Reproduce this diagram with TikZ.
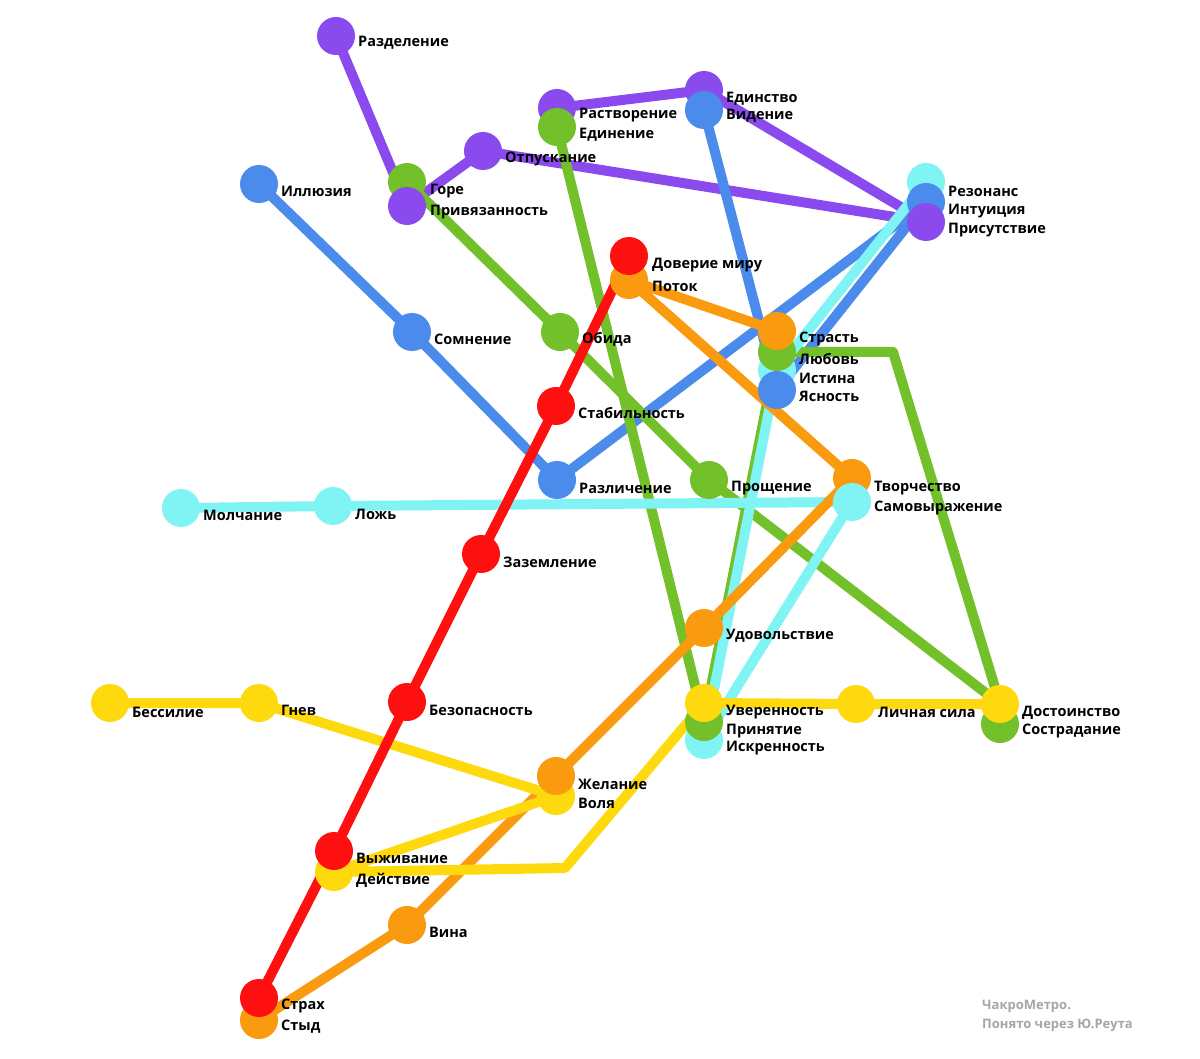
\documentclass[tikz,border=0pt]{standalone}
\usepackage{fontspec}
\setmainfont{Open Sans}
\definecolor{cpur}{HTML}{8A4AEE}
\definecolor{cgrn}{HTML}{73C12A}
\definecolor{cblu}{HTML}{4A8BEB}
\definecolor{ccya}{HTML}{80F3F5}
\definecolor{cred}{HTML}{FF1010}
\definecolor{cora}{HTML}{FA9A0E}
\definecolor{cyel}{HTML}{FDD90E}
\begin{document}
\begin{tikzpicture}[x=1pt,y=-1pt,
  ln/.style={line width=10pt,line join=round,line cap=round},
  st/.style={circle,fill=#1,minimum size=38pt,inner sep=0pt},
  lb/.style={anchor=west,font=\fontsize{14.5}{16}\selectfont\bfseries,inner sep=0pt},
  foot/.style={anchor=west,font=\fontsize{13}{15}\selectfont\bfseries,text=black!35,inner sep=0pt}]
\useasboundingbox (0,0) rectangle (1200,1059);
\fill[white] (0,0) rectangle (1200,1059);
% coordinates
\coordinate (raz) at (336,36);
\coordinate (gor) at (407,182); \coordinate (priv) at (407,206);
\coordinate (otp) at (483,151);
\coordinate (rast) at (557,108); \coordinate (edin) at (557,127);
\coordinate (eds) at (704,90); \coordinate (vid) at (704,110);
\coordinate (rez) at (926,182); \coordinate (int) at (926,202); \coordinate (pris) at (926,222);
\coordinate (ill) at (259,184);
\coordinate (dov) at (629,256); \coordinate (potok) at (629,280);
\coordinate (som) at (412,332);
\coordinate (obi) at (560,332);
\coordinate (str) at (777,331); \coordinate (lub) at (777,352); \coordinate (ist) at (777,370); \coordinate (yas) at (777,390);
\coordinate (stab) at (556,406);
\coordinate (razl) at (557,480);
\coordinate (pros) at (709,480);
\coordinate (tvor) at (852,478); \coordinate (samo) at (852,502);
\coordinate (molch) at (181,508); \coordinate (lozh) at (333,506);
\coordinate (zaz) at (481,554);
\coordinate (udov) at (704,628);
\coordinate (bess) at (110,703); \coordinate (gnev) at (259,703);
\coordinate (bez) at (407,702);
\coordinate (uver) at (704,703); \coordinate (prin) at (704,722); \coordinate (iskr) at (704,740);
\coordinate (lich) at (856,704);
\coordinate (dost) at (1000,704); \coordinate (sostr) at (1000,724);
\coordinate (zhel) at (556,776); \coordinate (vol) at (556,796);
\coordinate (vyzh) at (334,851); \coordinate (deis) at (334,872);
\coordinate (vina) at (407,925);
\coordinate (strah) at (259,998); \coordinate (styd) at (259,1020);
\coordinate (gbend) at (893,352);
\coordinate (ybend) at (565,868);
% lines
\draw[ln,cpur] (raz) -- (priv) -- (otp) -- (pris) -- (eds) -- (rast);
\draw[ln,cblu] (ill) -- (som) -- (razl) -- (int);
\draw[ln,cblu] (vid) -- (yas) -- (int);
\draw[ln,cgrn] (edin) -- (prin);
\draw[ln,cgrn] (gor) -- (obi) -- (pros) -- (dost);
\draw[ln,cgrn] (prin) -- (lub) -- (gbend) -- (dost);
\draw[ln,ccya] (molch) -- (lozh) -- (samo) -- (iskr) -- (ist) -- (rez);
\draw[ln,cora] (str) -- (potok) -- (tvor) -- (udov) -- (zhel) -- (vina) -- (styd);
\draw[ln,cyel] (bess) -- (gnev) -- (vol) -- (deis) -- (ybend) -- (uver) -- (lich) -- (dost);
\draw[ln,cred] (dov) -- (stab) -- (zaz) -- (bez) -- (vyzh) -- (strah);
% stations
\node[st=cpur] at (raz) {};
\node[st=cgrn] at (gor) {}; \node[st=cpur] at (priv) {};
\node[st=cpur] at (otp) {};
\node[st=cpur] at (rast) {}; \node[st=cgrn] at (edin) {};
\node[st=cpur] at (eds) {}; \node[st=cblu] at (vid) {};
\node[st=ccya] at (rez) {}; \node[st=cblu] at (int) {}; \node[st=cpur] at (pris) {};
\node[st=cblu] at (ill) {};
\node[st=cora] at (potok) {}; \node[st=cred] at (dov) {};
\node[st=cblu] at (som) {};
\node[st=cgrn] at (obi) {};
\node[st=ccya] at (ist) {}; \node[st=cgrn] at (lub) {}; \node[st=cblu] at (yas) {}; \node[st=cora] at (str) {};
\node[st=cred] at (stab) {};
\node[st=cblu] at (razl) {};
\node[st=cgrn] at (pros) {};
\node[st=cora] at (tvor) {}; \node[st=ccya] at (samo) {};
\node[st=ccya] at (molch) {}; \node[st=ccya] at (lozh) {};
\node[st=cred] at (zaz) {};
\node[st=cora] at (udov) {};
\node[st=cyel] at (bess) {}; \node[st=cyel] at (gnev) {};
\node[st=cred] at (bez) {};
\node[st=ccya] at (iskr) {}; \node[st=cgrn] at (prin) {}; \node[st=cyel] at (uver) {};
\node[st=cyel] at (lich) {};
\node[st=cgrn] at (sostr) {}; \node[st=cyel] at (dost) {};
\node[st=cyel] at (vol) {}; \node[st=cora] at (zhel) {};
\node[st=cyel] at (deis) {}; \node[st=cred] at (vyzh) {};
\node[st=cora] at (vina) {};
\node[st=cora] at (styd) {}; \node[st=cred] at (strah) {};
% labels
\node[lb] (l1) at (358,43) {Разделение};
\node[lb] (l2) at (430,191) {Горе};
\node[lb] (l3) at (430,212) {Привязанность};
\node[lb] (l4) at (505,159) {Отпускание};
\node[lb] (l5) at (579,115) {Растворение};
\node[lb] (l6) at (579,135) {Единение};
\node[lb] (l7) at (726,99) {Единство};
\node[lb] (l8) at (726,116) {Видение};
\node[lb] (l9) at (948,191) {Резонанс};
\node[lb] (l10) at (948,211) {Интуиция};
\node[lb] (l11) at (948,230) {Присутствие};
\node[lb] (l12) at (281,191) {Иллюзия};
\node[lb] (l13) at (652,265) {Доверие миру};
\node[lb] (l14) at (652,286) {Поток};
\node[lb] (l15) at (434,339) {Сомнение};
\node[lb] (l16) at (582,339) {Обида};
\node[lb] (l17) at (799,339) {Страсть};
\node[lb] (l18) at (799,359) {Любовь};
\node[lb] (l19) at (799,378) {Истина};
\node[lb] (l20) at (799,396) {Ясность};
\node[lb] (l21) at (578,413) {Стабильность};
\node[lb] (l22) at (579,488) {Различение};
\node[lb] (l23) at (731,488) {Прощение};
\node[lb] (l24) at (874,488) {Творчество};
\node[lb] (l25) at (874,508) {Самовыражение};
\node[lb] (l26) at (203,515) {Молчание};
\node[lb] (l27) at (355,514) {Ложь};
\node[lb] (l28) at (503,562) {Заземление};
\node[lb] (l29) at (726,636) {Удовольствие};
\node[lb] (l30) at (132,712) {Бессилие};
\node[lb] (l31) at (281,710) {Гнев};
\node[lb] (l32) at (429,710) {Безопасность};
\node[lb] (l33) at (726,712) {Уверенность};
\node[lb] (l34) at (726,731) {Принятие};
\node[lb] (l35) at (726,748) {Искренность};
\node[lb] (l36) at (878,712) {Личная сила};
\node[lb] (l37) at (1022,713) {Достоинство};
\node[lb] (l38) at (1022,731) {Сострадание};
\node[lb] (l39) at (578,784) {Желание};
\node[lb] (l40) at (578,803) {Воля};
\node[lb] (l41) at (356,858) {Выживание};
\node[lb] (l42) at (356,880) {Действие};
\node[lb] (l43) at (429,932) {Вина};
\node[lb] (l44) at (281,1006) {Страх};
\node[lb] (l45) at (281,1027) {Стыд};
\node[foot] (f1) at (982,1006) {ЧакроМетро.};
\node[foot] (f2) at (982,1025) {Понято через Ю.Реута};
\end{tikzpicture}
\end{document}
